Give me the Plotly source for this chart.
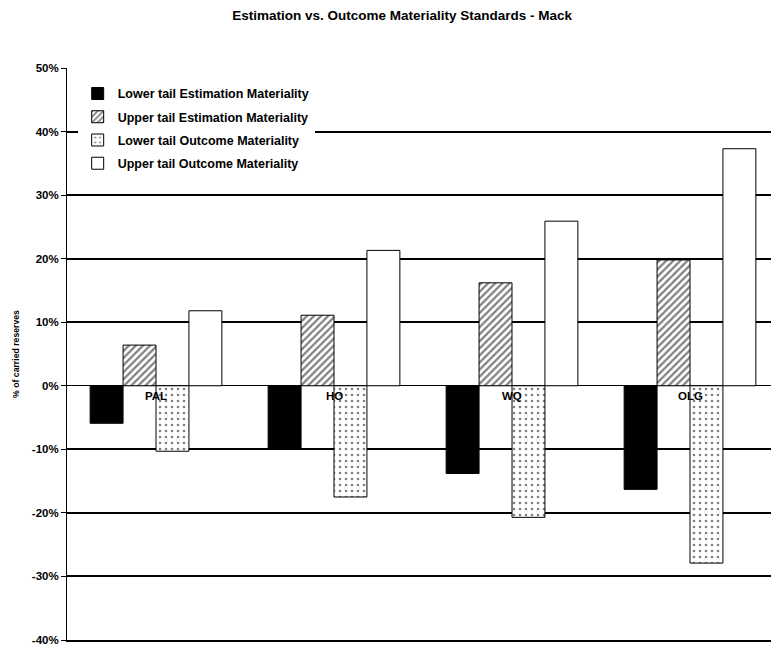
import plotly.graph_objects as go

categories = ["PAL", "HO", "WQ", "OLG"]
lower_est = [-5.9, -10.0, -13.8, -16.3]
upper_est = [6.4, 11.1, 16.2, 19.8]
lower_out = [-10.3, -17.5, -20.7, -27.9]
upper_out = [11.8, 21.3, 25.9, 37.3]
y_ticks = [-40, -30, -20, -10, 0, 10, 20, 30, 40, 50]
y_labels = [f"<b>{v}%</b>" for v in y_ticks]

FONT = "Liberation Sans, Arial, sans-serif"

fig = go.Figure()
fig.add_bar(x=categories, y=lower_est, name="<b>Lower tail Estimation Materiality</b>", legendgroup="g1",
            marker=dict(color="black", line=dict(color="black", width=1)))
fig.add_bar(x=categories, y=upper_est, name="<b>Upper tail Estimation Materiality</b>", legendgroup="g2",
            marker=dict(color="white", line=dict(color="black", width=1),
                        pattern=dict(shape="/", fgcolor="black", bgcolor="white", size=5, solidity=0.45)))
fig.add_bar(x=categories, y=lower_out, name="<b>Lower tail Outcome Materiality</b>", legendgroup="g3",
            marker=dict(color="white", line=dict(color="black", width=1),
                        pattern=dict(shape=".", fgcolor="black", bgcolor="white", size=6, solidity=0.15)))
fig.add_bar(x=categories, y=upper_out, name="<b>Upper tail Outcome Materiality</b>", legendgroup="g4",
            marker=dict(color="white", line=dict(color="black", width=1)))

for c in categories:
    fig.add_annotation(x=c, y=0, text=f"<b>{c}</b>", showarrow=False, yanchor="top", yshift=-2,
                       font=dict(family=FONT, size=11.5, color="black"))

fig.update_layout(
    width=779, height=648,
    margin=dict(l=55, r=8, t=60, b=16),
    paper_bgcolor="white", plot_bgcolor="white",
    barmode="group", bargap=0.26, bargroupgap=0,
    font=dict(family=FONT, size=10, color="black"),
    title=dict(text="<b>Estimation vs. Outcome Materiality Standards - Mack</b>",
               x=0.506, xanchor="center", y=1 - 7 / 648, yanchor="middle",
               font=dict(family=FONT, size=13.5, color="black")),
    legend=dict(x=0.015, y=0.981, xanchor="left", yanchor="top", bgcolor="white",
                font=dict(family=FONT, size=12.5, color="black"), itemwidth=30,
                tracegroupgap=4, traceorder="grouped"),
    xaxis=dict(showticklabels=False, showgrid=False, zeroline=False,
               showline=True, linecolor="black", linewidth=2, ticks=""),
    yaxis=dict(range=[-40, 50], tickvals=y_ticks, ticktext=y_labels, ticks="outside",
               ticklen=5, tickcolor="black", showgrid=True, gridcolor="black", gridwidth=2,
               zeroline=True, zerolinecolor="black", zerolinewidth=1,
               showline=True, linecolor="black", linewidth=1,
               title=dict(text="<b>% of carried reserves</b>", font=dict(family=FONT, size=8.7), standoff=10),
               tickfont=dict(family=FONT, size=11.5)),
)

fig.write_html("out.html")
